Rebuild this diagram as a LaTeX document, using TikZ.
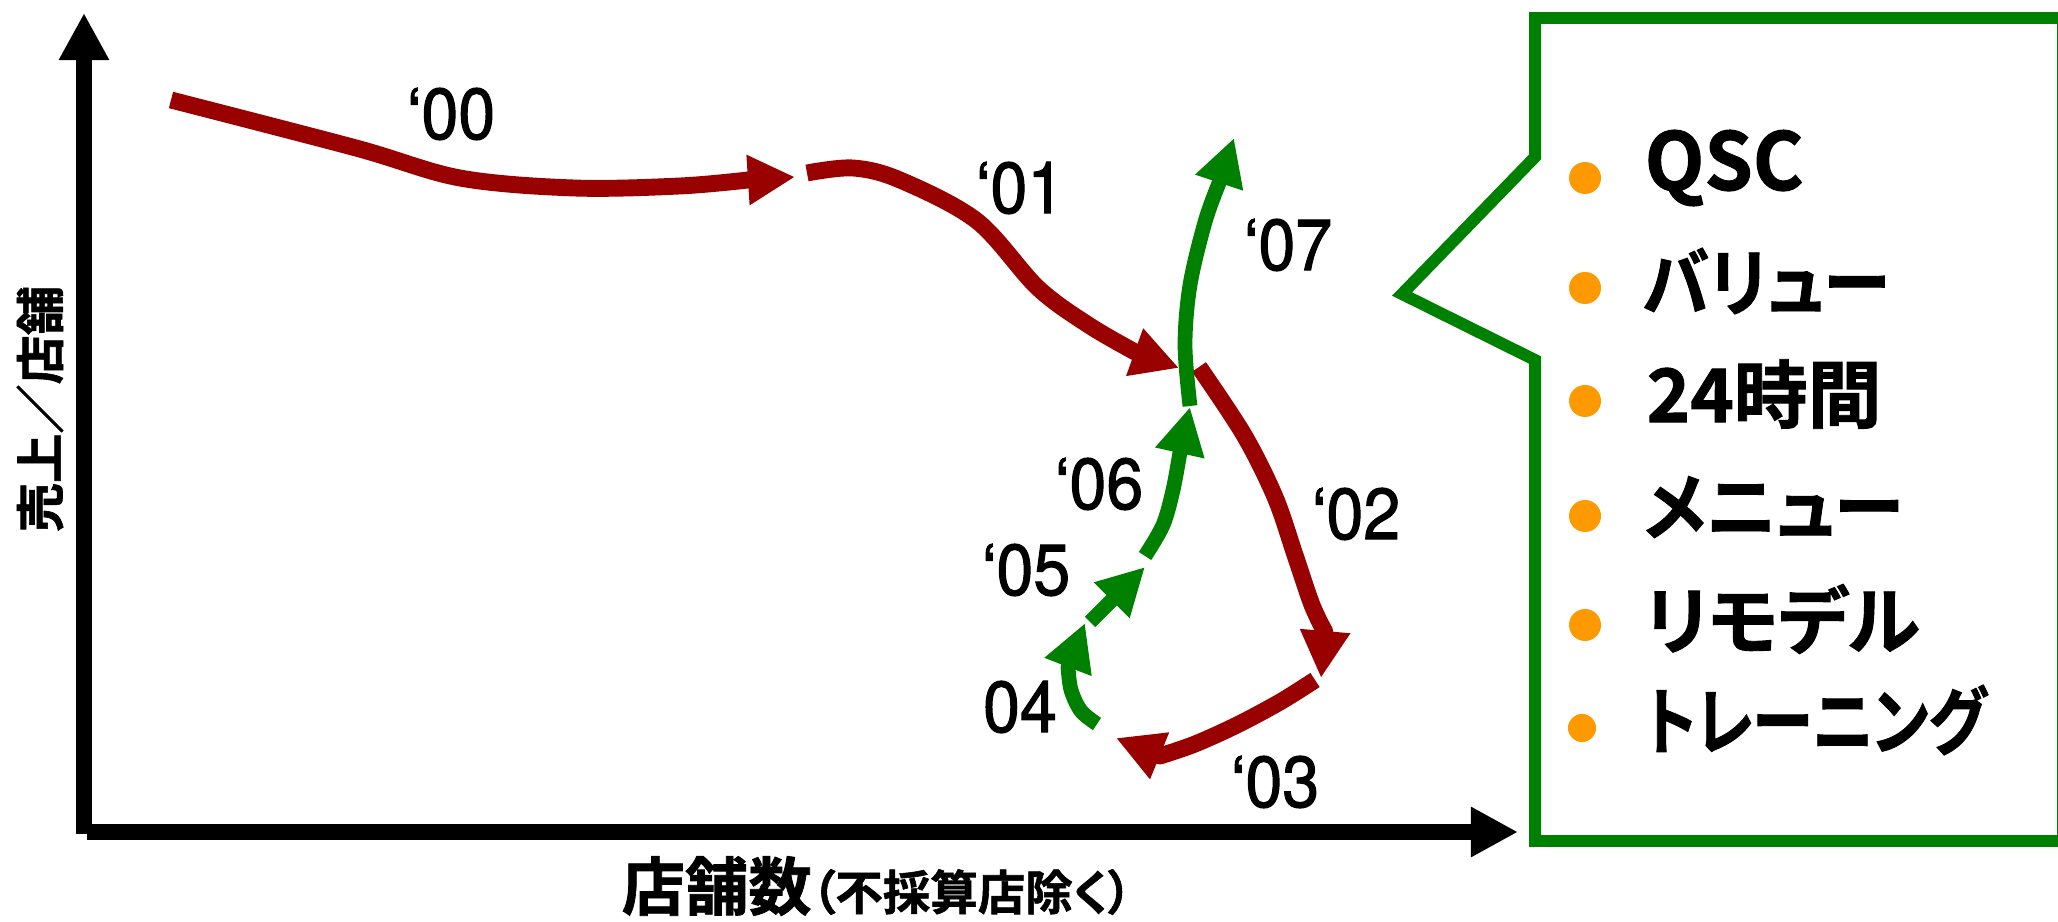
\documentclass[tikz,border=0pt]{standalone}
\usepackage{fontspec}
\usetikzlibrary{arrows.meta}
\newfontfamily\jpfont{Noto Sans CJK JP}[RawFeature=+palt,UprightFont=* Bold,FakeBold=1.2]
\newfontfamily\yrfont{TeX Gyre Heros}[FakeStretch=0.92,FakeBold=1.4]
\definecolor{dred}{HTML}{990000}
\definecolor{dgreen}{HTML}{008000}
\definecolor{orng}{HTML}{FF9900}
\begin{document}
\begin{tikzpicture}[x=0.01cm,y=-0.01cm,
  tipbig/.tip={Triangle[length=13.4pt,width=13.4pt]},
  axisline/.style={draw=black,line width=4.55pt,-{tipbig}},
  redarr/.style={draw=dred,line width=4.8pt,-{tipbig},line join=round},
  grnarr/.style={draw=dgreen,line width=4.2pt,-{tipbig},line join=round},
  yr/.style={inner sep=0pt,font=\yrfont\fontsize{20.5}{22}\selectfont},
  item/.style={inner sep=0pt,anchor=west,font=\jpfont\fontsize{21}{24}\selectfont},
  dot/.style={circle,fill=orng,inner sep=0pt,minimum size=9.1pt},
  callout/.style={draw=dgreen,line width=3.4pt,line join=miter}]
\useasboundingbox (0,0) rectangle (2058,922);
% axes
\coordinate (o) at (84,834);
\coordinate (ytip) at (84,13);
\coordinate (xo) at (87,832);
\coordinate (xtip) at (1518,832);
\draw[axisline] (o) -- (ytip);
\draw[axisline] (xo) -- (xtip);
\node[inner sep=0pt,rotate=90,font=\jpfont\fontsize{14}{16}\selectfont] (ylab) at (40,409) {売上／店舗};
\node[inner sep=0pt,anchor=base west,font=\jpfont] (xlab) at (621,910) {{\fontsize{18}{20}\selectfont 店舗数}{\fontsize{13.5}{15}\selectfont （不採算店除く）}};
% red arrows
\draw[redarr] plot[smooth,tension=0.55] coordinates {(171,100) (356,148) (460,178) (574,188) (680,186) (748,180)} -- (795,177);
\draw[redarr] plot[smooth,tension=0.55] coordinates {(807,173) (853,168) (900,180) (977,221) (1038,288) (1090,326) (1137,353)} -- (1179,368);
\draw[redarr] plot[smooth,tension=0.55] coordinates {(1199,367) (1244,435) (1275,497) (1295,555) (1312,605) (1325,632)} -- (1321,678);
\draw[redarr] plot[smooth,tension=0.55] coordinates {(1315,680) (1280,702) (1237,725) (1195,744) (1160,756)} -- (1116,738);
% green arrows
\draw[grnarr] plot[smooth,tension=0.55] coordinates {(1097,724) (1081,711) (1071,690) (1068,667)} -- (1085,623);
\draw[grnarr] (1090,622) -- (1145,567);
\draw[grnarr] plot[smooth,tension=0.55] coordinates {(1145,556) (1163,525) (1173,490) (1180,452)} -- (1190,407);
\draw[grnarr] plot[smooth,tension=0.55] coordinates {(1190,406) (1185,345) (1190,285) (1205,222) (1219,183)} -- (1234,138);
% year labels
\node[yr] (l00) at (451,114) {‘00};
\node[yr] (l01) at (1020,188) {‘01};
\node[yr] (l07) at (1288,245) {‘07};
\node[yr] (l06) at (1099,484) {‘06};
\node[yr] (l05) at (1026,570) {‘05};
\node[yr] (l04) at (1020,707) {04};
\node[yr] (l02) at (1356,514) {‘02};
\node[yr] (l03) at (1275,782) {‘03};
% callout
\draw[callout] (1535,157) -- (1402,294) -- (1535,360) -- (1535,841) -- (2063,841) -- (2063,18) -- (1535,18) -- cycle;
\node[dot] (d1) at (1585,178) {};
\node[dot] (d2) at (1585,288) {};
\node[dot] (d3) at (1585,401) {};
\node[dot] (d4) at (1585,516) {};
\node[dot] (d5) at (1585,625) {};
\node[dot,minimum size=8pt] (d6) at (1582,728) {};
\node[item] (t1) at (1644,168) {\scalebox{1.05}[1.08]{QSC}};
\node[item] (t2) at (1642,281) {\scalebox{0.91}[1]{バリュー}};
\node[item] (t3) at (1646,394) {24時間};
\node[item] (t4) at (1643,507) {\scalebox{0.95}[1]{メニュー}};
\node[item] (t5) at (1644,619) {リモデル};
\node[item] (t6) at (1644,720) {\scalebox{0.83}[1]{トレーニング}};
\end{tikzpicture}
\end{document}
